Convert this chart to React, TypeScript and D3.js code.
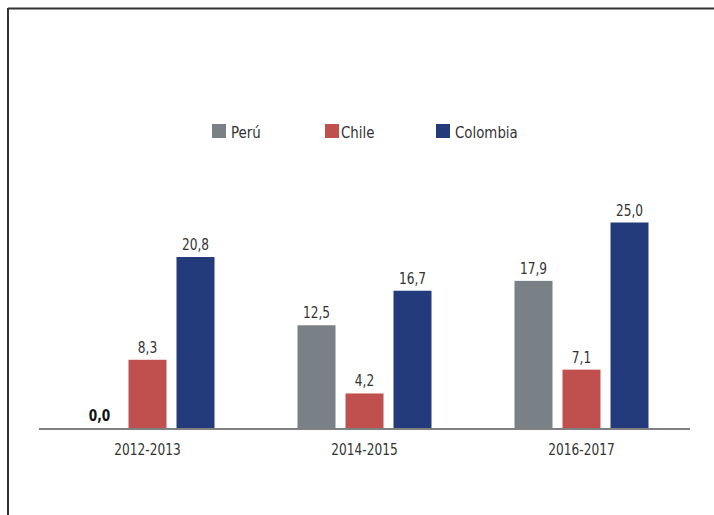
import React from "react";
import * as d3 from "d3";

const categories = ["2012-2013", "2014-2015", "2016-2017"];
const seriesNames = ["Perú", "Chile", "Colombia"];
const peru = [0.0, 12.5, 17.9];
const chile = [8.3, 4.2, 7.1];
const colombia = [20.8, 16.7, 25.0];
const colors = ["#798086", "#c0504d", "#233a7b"];

const W = 714;
const H = 515;
const baseY = 428;
const FONT = "'DejaVu Sans Condensed', 'DejaVu Sans', sans-serif";

function T({ x, y, sx, size, anchor, weight, fill, children }: any) {
  return (
    <g transform={`translate(${x},${y}) scale(${sx},1)`}>
      <text
        x={0}
        y={0}
        textAnchor={anchor}
        fontFamily={FONT}
        fontSize={size}
        fontWeight={weight || "normal"}
        fill={fill || "#333"}
      >
        {children}
      </text>
    </g>
  );
}

export default function App() {
  const series = [peru, chile, colombia];
  const x0 = d3.scaleBand().domain(categories).range([39, 690]).padding(0);
  const bw = 38;
  const gap = 10;
  const y = d3.scaleLinear().domain([0, 25]).range([baseY, 222.5]);
  const legendX = [212, 325, 436];

  return (
    <div style={{ position: "absolute", left: 0, top: 0 }}>
      <svg width={W} height={H} style={{ display: "block" }}>
        <rect x={0} y={0} width={W} height={H} fill="#fff" />
        <line x1={8} x2={W} y1={8.5} y2={8.5} stroke="#333" strokeWidth={2} />
        <line x1={8} x2={8} y1={8} y2={H} stroke="#333" strokeWidth={2} />
        {categories.map((c, ci) => {
          const cx = (x0(c) as number) + x0.bandwidth() / 2;
          return (
            <g key={c}>
              {series.map((s, si) => {
                const bx = cx - bw / 2 + (si - 1) * (bw + gap);
                const v = s[ci];
                const top = y(v);
                return (
                  <g key={si}>
                    {v > 0 && (
                      <rect x={bx} y={top} width={bw} height={baseY - top} fill={colors[si]} />
                    )}
                    <T
                      x={bx + bw / 2}
                      y={top - 7}
                      sx={0.82}
                      size={16.5}
                      anchor="middle"
                      weight={v === 0 ? "bold" : "normal"}
                      fill={v === 0 ? "#111" : "#333"}
                    >
                      {d3.format(".1f")(v).replace(".", ",")}
                    </T>
                  </g>
                );
              })}
              <T x={cx} y={455} sx={0.82} size={16.5} anchor="middle">
                {c}
              </T>
            </g>
          );
        })}
        <line x1={39} x2={690} y1={baseY + 1} y2={baseY + 1} stroke="#808080" strokeWidth={2} />
        {seriesNames.map((n, i) => (
          <g key={n}>
            <rect x={legendX[i]} y={124} width={14} height={14} fill={colors[i]} />
            <T x={legendX[i] + (i === 1 ? 16 : 19)} y={137.5} sx={0.9} size={16.5} anchor="start">
              {n}
            </T>
          </g>
        ))}
      </svg>
    </div>
  );
}
